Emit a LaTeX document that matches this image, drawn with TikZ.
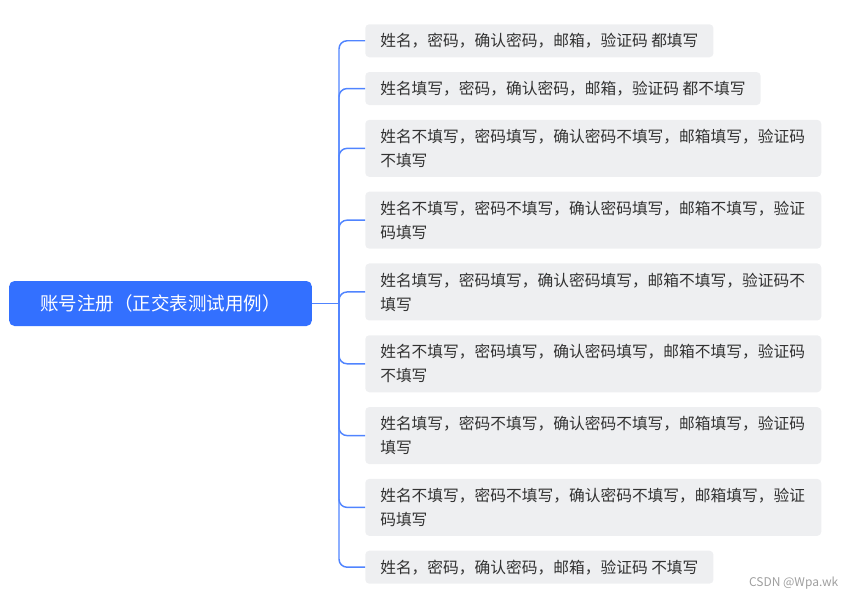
\documentclass[tikz,border=0pt]{standalone}
\usepackage{fontspec}
\newfontfamily\cjk{Noto Sans CJK SC}
\definecolor{rootblue}{RGB}{51,112,255}
\definecolor{linkblue}{RGB}{80,132,255}
\definecolor{leafgray}{RGB}{238,239,241}
\definecolor{darkgray}{RGB}{50,50,50}
\usetikzlibrary{positioning}

\begin{document}
\begin{tikzpicture}[x=0.75pt,y=-0.75pt,
  rootbox/.style={fill=rootblue,rounded corners=4pt,minimum width=227pt,minimum height=33.75pt,inner sep=0pt,font=\cjk\fontsize{13.9}{16}\selectfont,text=white},
  leafbox/.style={fill=leafgray,rounded corners=3pt,align=left,minimum height=24.75pt,inner xsep=11.25pt,inner ysep=5pt,font=\cjk\fontsize{11.8}{18}\selectfont,text=darkgray},
  wide/.style={text width=319.5pt,minimum height=42.75pt},
  branch/.style={draw=linkblue,line width=1.1pt,rounded corners=6pt}
]
  \useasboundingbox (0,0) rectangle (855,599);
  \node[rootbox] (root) at (160.5,303.5) {账号注册（正交表测试用例）};
  \coordinate (hub) at (339,303.5);
  \node[leafbox,anchor=north west] (c1) at (365,24) {姓名，密码，确认密码，邮箱，验证码 都填写};
  \node[leafbox,below right=10.7pt and 0pt of c1.south west] (c2) {姓名填写，密码，确认密码，邮箱，验证码 都不填写};
  \node[leafbox,wide,below right=10.7pt and 0pt of c2.south west] (c3) {姓名不填写，密码填写，确认密码不填写，邮箱填写，验证码\\不填写};
  \node[leafbox,wide,below right=10.7pt and 0pt of c3.south west] (c4) {姓名不填写，密码不填写，确认密码填写，邮箱不填写，验证\\码填写};
  \node[leafbox,wide,below right=10.7pt and 0pt of c4.south west] (c5) {姓名填写，密码填写，确认密码填写，邮箱不填写，验证码不\\填写};
  \node[leafbox,wide,below right=10.7pt and 0pt of c5.south west] (c6) {姓名不填写，密码填写，确认密码填写，邮箱不填写，验证码\\不填写};
  \node[leafbox,wide,below right=10.7pt and 0pt of c6.south west] (c7) {姓名填写，密码不填写，确认密码不填写，邮箱填写，验证码\\填写};
  \node[leafbox,wide,below right=10.7pt and 0pt of c7.south west] (c8) {姓名不填写，密码不填写，确认密码不填写，邮箱填写，验证\\码填写};
  \node[leafbox,below right=10.7pt and 0pt of c8.south west] (c9) {姓名，密码，确认密码，邮箱，验证码 不填写};
  \node[anchor=east,font=\cjk\fontsize{9}{10}\selectfont,text=gray!75] (mark) at (843,583) {CSDN @Wpa.wk};
  \draw[branch] (root.east) -- (hub);
  \draw[branch] (hub) |- (c1.west);
  \draw[branch] (hub) |- (c2.west);
  \draw[branch] (hub) |- (c3.west);
  \draw[branch] (hub) |- (c4.west);
  \draw[branch] (hub) |- (c5.west);
  \draw[branch] (hub) |- (c6.west);
  \draw[branch] (hub) |- (c7.west);
  \draw[branch] (hub) |- (c8.west);
  \draw[branch] (hub) |- (c9.west);
\end{tikzpicture}
\end{document}
